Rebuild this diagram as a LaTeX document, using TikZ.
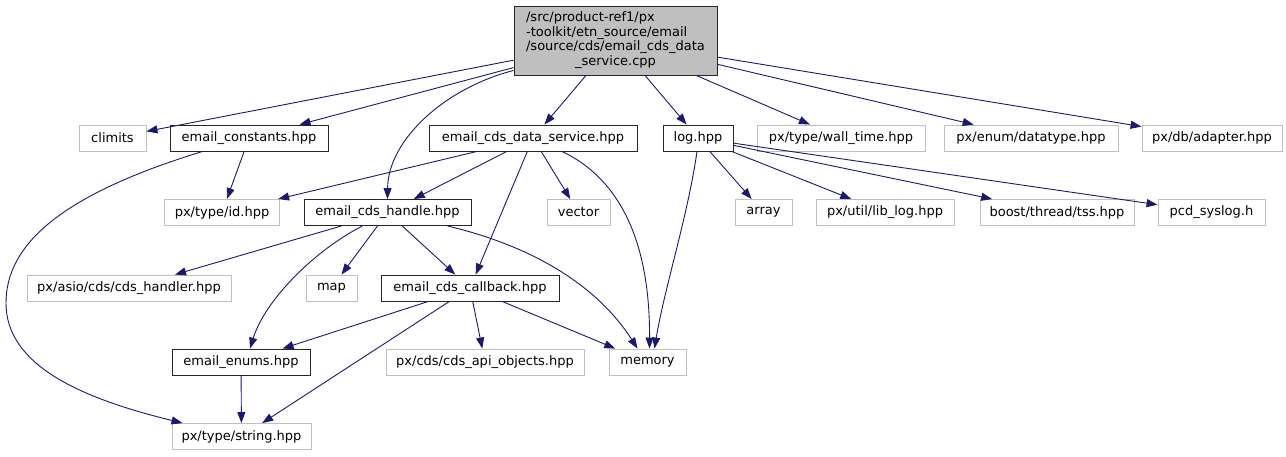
\documentclass[tikz,border=0pt]{standalone}
\usepackage{fontspec}
\setmainfont{DejaVu Sans}
\usepackage{xcolor}
\definecolor{edgeblue}{RGB}{25,25,112}
\definecolor{extgray}{RGB}{191,191,191}
\usepackage{tikz}
\usetikzlibrary{arrows.meta,calc}

\begin{document}
\begin{tikzpicture}[x=1pt, y=-1pt,
  font=\fontsize{13}{14.5}\selectfont,
  box/.style={draw, minimum height=26pt, inner sep=0pt, line width=0.9pt},
  local/.style={box, draw=black!85},
  ext/.style={box, draw=extgray},
  rootbox/.style={local, fill=extgray, minimum height=69pt},
  dep/.style={-{Triangle[length=11pt, width=8pt]}, line width=0.9pt, edgeblue}]
\useasboundingbox (0,0) rectangle (1286,456);
\node[rootbox, minimum width=203pt] (root) at (615.5,40.5)
  {\begin{tabular}{@{}l@{}}/src/product-ref1/px\\-toolkit/etn\_source/email\\/source/cds/email\_cds\_data\\\multicolumn{1}{@{}c@{}}{\_service.cpp}\end{tabular}};
% first row
\node[ext, minimum width=67pt] (climits) at (112.5,138) {climits};
\node[local, minimum width=158pt] (constants) at (249,138) {email\_constants.hpp};
\node[local, minimum width=208pt] (dataservice) at (533,138) {email\_cds\_data\_service.hpp};
\node[local, minimum width=70pt] (log) at (698,138) {log.hpp};
\node[ext, minimum width=168pt] (walltime) at (841,138) {px/type/wall\_time.hpp};
\node[ext, minimum width=174pt] (datatype) at (1031,138) {px/enum/datatype.hpp};
\node[ext, minimum width=140pt] (adapter) at (1212,138) {px/db/adapter.hpp};
% second row
\node[ext, minimum width=115pt] (id) at (222,212.5) {px/type/id.hpp};
\node[local, minimum width=167pt] (handle) at (387.5,212.5) {email\_cds\_handle.hpp};
\node[ext, minimum width=63pt] (vector) at (578.5,212.5) {vector};
\node[ext, minimum width=57pt] (array) at (763.5,212.5) {array};
\node[ext, minimum width=138pt] (liblog) at (885,212.5) {px/util/lib\_log.hpp};
\node[ext, minimum width=154pt] (tss) at (1057,212.5) {boost/thread/tss.hpp};
\node[ext, minimum width=107pt] (syslog) at (1211.5,212.5) {pcd\_syslog.h};
% third row
\node[ext, minimum width=204pt] (asio) at (129,288) {px/asio/cds/cds\_handler.hpp};
\node[ext, minimum width=51pt] (map) at (331.5,288) {map};
\node[local, minimum width=178pt] (callback) at (470,288) {email\_cds\_callback.hpp};
% fourth row
\node[local, minimum width=138pt] (enums) at (241,362) {email\_enums.hpp};
\node[ext, minimum width=198pt] (cdsapi) at (485,362) {px/cds/cds\_api\_objects.hpp};
\node[ext, minimum width=77pt] (memory) at (647.5,362) {memory};
% last row
\node[ext, minimum width=139pt] (string) at (241.5,436.5) {px/type/string.hpp};
% includes of the source file
\draw[dep] (root) -- (climits);
\draw[dep] (root) -- (constants);
\draw[dep] ($(root.south west)+(0,-5)$) .. controls (445,88) and (388,140) .. (handle.north);
\draw[dep] (root) -- (dataservice);
\draw[dep] (root) -- (log);
\draw[dep] (root) -- (walltime);
\draw[dep] (root) -- (datatype);
\draw[dep] (root) -- (adapter);
% email_constants.hpp
\draw[dep] (constants) -- (id);
\draw[dep] ($(constants.south west)+(33,0)$) .. controls (60,195) and (6,245) .. (6,303)
  .. controls (6,365) and (80,398) .. ($(string.north west)+(11,0)$);
% email_cds_data_service.hpp
\draw[dep] (dataservice) -- (id);
\draw[dep] (dataservice) -- (handle);
\draw[dep] (dataservice) -- (callback);
\draw[dep] (dataservice) -- (vector);
\draw[dep] ($(dataservice.south)+(29,0)$) .. controls (622,180) and (650,245) .. ($(memory.north)+(2,0)$);
% log.hpp
\draw[dep] ($(log.south)+(-1,0)$) .. controls (688,215) and (664,290) .. ($(memory.north)+(7,0)$);
\draw[dep] (log) -- (array);
\draw[dep] (log) -- (liblog);
\draw[dep] (log) -- (tss);
\draw[dep] (log) -- (syslog);
% email_cds_handle.hpp
\draw[dep] (handle) -- (asio);
\draw[dep] (handle) -- (map);
\draw[dep] (handle) -- (callback);
\draw[dep] ($(handle.south)+(-25,0)$) .. controls (315,250) and (265,300) .. ($(enums.north)+(9,0)$);
\draw[dep] ($(handle.south)+(60,0)$) .. controls (540,248) and (600,290) .. ($(memory.north)+(-10,0)$);
% email_cds_callback.hpp
\draw[dep] (callback) -- (enums);
\draw[dep] (callback) -- (string);
\draw[dep] (callback) -- (cdsapi);
\draw[dep] (callback) -- (memory);
\draw[dep] (enums) -- (string);
\end{tikzpicture}
\end{document}
